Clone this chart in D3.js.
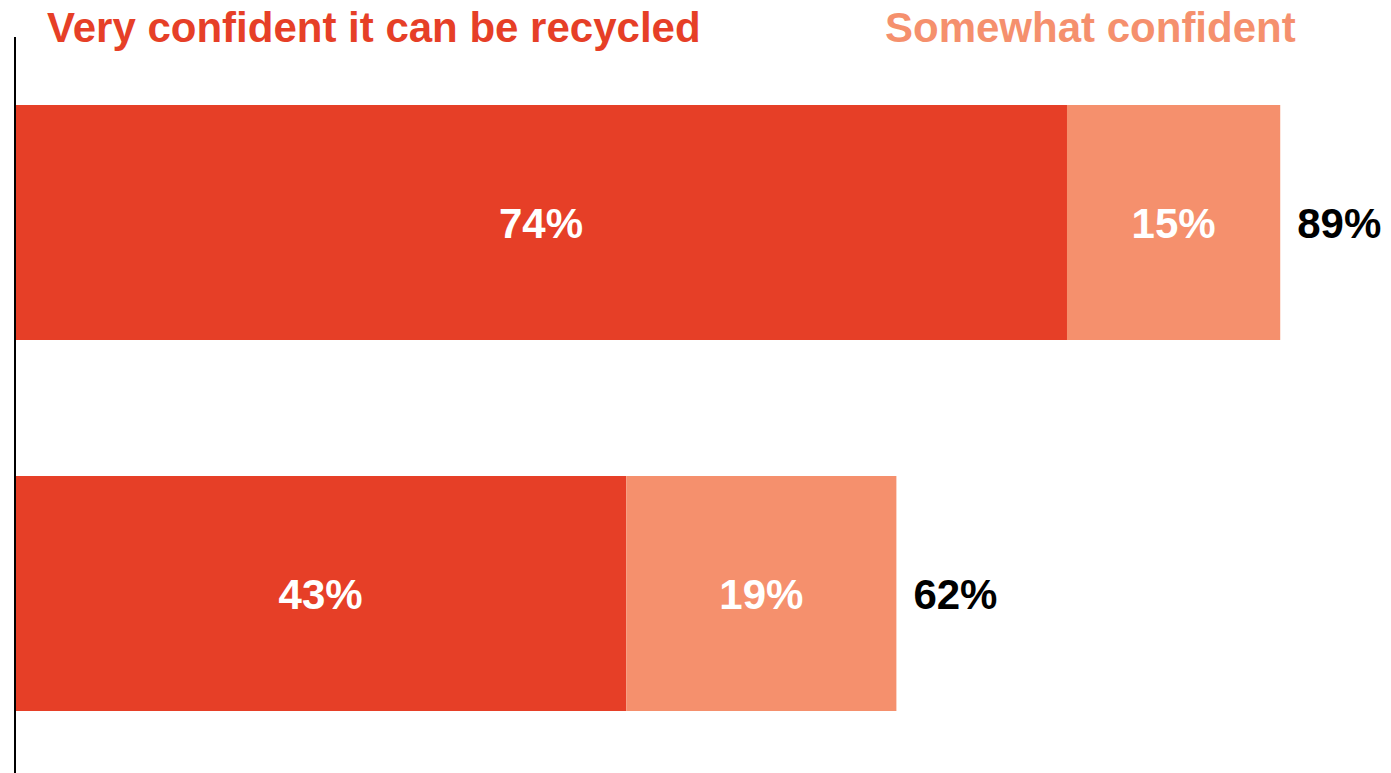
<!DOCTYPE html>
<html>
<head>
<meta charset="utf-8">
<script src="https://cdn.jsdelivr.net/npm/d3@7"></script>
<style>
  html, body { margin: 0; padding: 0; background: #fff; }
  svg { display: block; font-family: "Liberation Sans", Arial, sans-serif; }
</style>
</head>
<body>
<svg id="chart" width="1391" height="773"></svg>
<script>
// Survey answers: share of respondents confident an item can be recycled
const categories = ["Group A", "Group B"];
const seriesNames = ["Very confident it can be recycled", "Somewhat confident"];
const veryConfident = [74, 43];
const somewhatConfident = [15, 19];
const totals = [89, 62];
const colors = ["#E63F27", "#F5906D"];

const width = 1391, height = 773;
const margin = { left: 15, top: 37 };
const fontSize = 42;

const svg = d3.select("#chart");

const x = d3.scaleLinear().domain([0, 100]).range([margin.left, margin.left + 1421.6]);
const y = d3.scaleBand().domain(categories).range([105, 711]).paddingInner(0.3666).paddingOuter(0);

// stacked layout
const rows = categories.map((c, i) => ({ cat: c, very: veryConfident[i], some: somewhatConfident[i], total: totals[i] }));
const stack = d3.stack().keys(["very", "some"])(rows);

const layers = svg.selectAll("g.layer").data(stack).join("g")
  .attr("class", "layer")
  .attr("fill", (d, i) => colors[i]);

layers.selectAll("rect").data(d => d).join("rect")
  .attr("x", d => x(d[0]))
  .attr("y", d => y(d.data.cat))
  .attr("width", d => x(d[1]) - x(d[0]))
  .attr("height", y.bandwidth());

// segment value labels
layers.selectAll("text").data(d => d).join("text")
  .attr("x", d => (x(d[0]) + x(d[1])) / 2)
  .attr("y", d => y(d.data.cat) + y.bandwidth() / 2)
  .attr("dy", "0.36em")
  .attr("text-anchor", "middle")
  .attr("fill", "#fff")
  .attr("font-weight", "bold")
  .attr("font-size", fontSize)
  .text(d => (d[1] - d[0]) + "%");

// totals at bar ends
svg.selectAll("text.total").data(rows).join("text")
  .attr("class", "total")
  .attr("x", d => x(d.total) + 17)
  .attr("y", d => y(d.cat) + y.bandwidth() / 2)
  .attr("dy", "0.36em")
  .attr("fill", "#000")
  .attr("font-weight", "bold")
  .attr("font-size", fontSize)
  .text(d => d.total + "%");

// series titles
const legendX = [47, 885];
svg.selectAll("text.legend").data(seriesNames).join("text")
  .attr("class", "legend")
  .attr("x", (d, i) => legendX[i])
  .attr("y", 42)
  .attr("fill", (d, i) => colors[i])
  .attr("font-weight", "bold")
  .attr("font-size", fontSize)
  .text(d => d);

// vertical baseline
svg.append("line")
  .attr("x1", margin.left).attr("x2", margin.left)
  .attr("y1", margin.top).attr("y2", height)
  .attr("stroke", "#000").attr("stroke-width", 2);
</script>
</body>
</html>
